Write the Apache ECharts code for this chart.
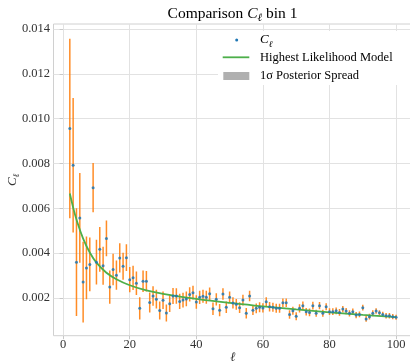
<!DOCTYPE html>
<html><head><meta charset="utf-8">
<script src="https://cdn.jsdelivr.net/npm/echarts@6/dist/echarts.min.js"></script>
<style>html,body{margin:0;padding:0;background:#fff}#c{width:410px;height:363px}</style>
</head><body><div id="c"></div>
<script>
// multipoles
const ells = [2,3,4,5,6,7,8,9,10,11,12,13,14,15,16,17,18,19,20,21,22,23,24,25,26,27,28,29,30,31,32,33,34,35,36,37,38,39,40,41,42,43,44,45,46,47,48,49,50,51,52,53,54,55,56,57,58,59,60,61,62,63,64,65,66,67,68,69,70,71,72,73,74,75,76,77,78,79,80,81,82,83,84,85,86,87,88,89,90,91,92,93,94,95,96,97,98,99,100];
const cl = [0.00956,0.00792,0.0036,0.00557,0.00271,0.00334,0.0035,0.00692,0.0036,0.00417,
0.00344,0.00466,0.00249,0.00327,0.00302,0.00379,0.00342,0.0038,0.00282,0.0029,
0.00266,0.00154,0.00275,0.00275,0.0018,0.00209,0.00195,0.00144,0.0019,0.00133,
0.00175,0.00209,0.00209,0.00185,0.00191,0.00196,0.00216,0.00224,0.00182,0.00203,
0.00208,0.00203,0.00219,0.00152,0.00194,0.00146,0.00218,0.00159,0.00204,0.00178,
0.00172,0.00157,0.00191,0.00132,0.00209,0.00146,0.00154,0.00159,0.00156,0.00183,
0.00161,0.00159,0.00154,0.00154,0.00179,0.00179,0.00127,0.00143,0.00119,0.00154,
0.00166,0.00139,0.00136,0.00166,0.00132,0.00166,0.00132,0.00161,0.00139,0.00139,
0.00143,0.00136,0.00151,0.00142,0.00132,0.00139,0.00124,0.00127,0.00157,0.00107,
0.00117,0.00132,0.00142,0.00134,0.00127,0.00121,0.00121,0.00117,0.00114];
// half-length of error bars
const clErr = [0.0040,0.0030,0.0024,0.0020,0.0018,0.0014,0.0012,0.0011,0.0010,0.0010,
0.00085,0.0008,0.00074,0.0007,0.00065,0.00065,0.0006,0.0006,0.00056,0.00054,
0.00052,0.0005,0.00048,0.00046,0.00045,0.00043,0.00042,0.0004,0.00039,0.00038,
0.00037,0.00036,0.00035,0.00034,0.00033,0.00033,0.00032,0.00031,0.0003,0.0003,
0.00029,0.00029,0.00028,0.00028,0.00027,0.00027,0.00026,0.00026,0.00025,0.00025,
0.00024,0.00024,0.00024,0.00023,0.00023,0.00022,0.00022,0.00022,0.00021,0.00021,
0.00021,0.0002,0.0002,0.0002,0.00019,0.00019,0.00019,0.00018,0.00018,0.00018,
0.00018,0.00017,0.00017,0.00017,0.00016,0.00016,0.00016,0.00016,0.00015,0.00015,
0.00015,0.00015,0.00014,0.00014,0.00014,0.00014,0.00014,0.00013,0.00013,0.00013,
0.00013,0.00013,0.00012,0.00012,0.00012,0.00012,0.00012,0.00012,0.00011];
// highest likelihood model
const modelElls = [2,3,4,6,8,10,13,16,20,25,30,40,50,60,70,80,90,100];
const modelCl = [0.00666,0.00604,0.0055,0.00465,0.00403,0.00358,0.00313,0.00284,0.00257,0.00234,0.00219,0.00196,0.00178,0.00163,0.00149,0.00136,0.00125,0.00115];
const xTicks = [0,20,40,60,80,100];
const yTicks = [0.002,0.004,0.006,0.008,0.010,0.012,0.014];

const FONT = 'Liberation Serif';
const TXT = '#333';
const richBase = {
  n: {fontFamily: FONT, fontSize: 12.5, color: TXT, lineHeight: 18, verticalAlign: 'middle'},
  i: {fontFamily: FONT, fontSize: 13, fontStyle: 'italic', color: TXT, lineHeight: 18, verticalAlign: 'middle'},
  s: {fontFamily: FONT, fontSize: 9, fontStyle: 'italic', color: TXT, lineHeight: 9, verticalAlign: 'bottom'}
};
const richTitle = {
  n: {fontFamily: FONT, fontSize: 15.5, color: TXT, lineHeight: 20, verticalAlign: 'middle'},
  i: {fontFamily: FONT, fontSize: 15.5, fontStyle: 'italic', color: TXT, lineHeight: 20, verticalAlign: 'middle'},
  s: {fontFamily: FONT, fontSize: 11, fontStyle: 'italic', color: TXT, lineHeight: 10, verticalAlign: 'bottom'}
};

const chart = echarts.init(document.getElementById('c'), null, {renderer: 'canvas'});
const gridColor = '#e2e2e2';
chart.setOption({
  animation: false,
  backgroundColor: '#fff',
  grid: {left: 53.5, right: -2.4, top: 24, bottom: 27.3, show: true, borderColor: '#d0d0d0', borderWidth: 1, containLabel: false, outerBoundsMode: 'none'},
  xAxis: {
    type: 'value', min: -2.9, max: 104.9,
    axisLine: {show: false},
    axisTick: {show: true, length: 3.5, lineStyle: {color: '#c8c8c8'}, customValues: xTicks},
    axisLabel: {customValues: xTicks, fontFamily: FONT, fontSize: 12.5, color: TXT, margin: 3},
    splitLine: {show: true, lineStyle: {color: gridColor, width: 1}},
    name: '{i|ℓ}', nameLocation: 'middle', nameGap: 13, nameMoveOverlap: false,
    nameTextStyle: {rich: richBase}
  },
  yAxis: {
    type: 'value', min: 0.00032, max: 0.01422,
    axisLine: {show: false},
    axisTick: {show: true, length: 3.5, lineStyle: {color: '#c8c8c8'}, customValues: yTicks},
    axisLabel: {customValues: yTicks, formatter: v => v.toFixed(3), fontFamily: FONT, fontSize: 12.5, color: TXT, margin: 3.5},
    splitLine: {show: true, lineStyle: {color: gridColor, width: 1}},
    name: '{i|C}{s|ℓ}', nameLocation: 'middle', nameGap: 32, nameRotate: 90, nameMoveOverlap: false,
    nameTextStyle: {rich: richBase}
  },
  graphic: [
    {type: 'text', x: 232.5, y: 14, style: {text: '{n|Comparison }{i|C}{s|ℓ}{n| bin 1}', rich: richTitle, align: 'center', verticalAlign: 'middle'}},
    {type: 'rect', shape: {x: 218, y: 31, width: 192, height: 54}, style: {fill: '#fff'}, z: 10},
    {type: 'circle', shape: {cx: 236.7, cy: 40, r: 1.5}, style: {fill: '#1f77b4'}, z: 11},
    {type: 'text', x: 260, y: 40, z: 11, style: {text: '{i|C}{s|ℓ}', rich: richBase, verticalAlign: 'middle'}},
    {type: 'line', shape: {x1: 222.7, y1: 57.3, x2: 249.3, y2: 57.3}, style: {stroke: '#4daf4a', lineWidth: 1.8}, z: 11},
    {type: 'text', x: 260, y: 57.5, z: 11, style: {text: '{n|Highest Likelihood Model}', rich: richBase, verticalAlign: 'middle'}},
    {type: 'rect', shape: {x: 223.3, y: 72, width: 26, height: 8}, style: {fill: '#b0b0b0'}, z: 11},
    {type: 'text', x: 260, y: 76, z: 11, style: {text: '{n|1σ Posterior Spread}', rich: richBase, verticalAlign: 'middle'}}
  ],
  series: [
    {
      type: 'custom', clip: true, z: 2,
      data: ells.map((l, i) => [l, cl[i] - clErr[i], cl[i] + clErr[i]]),
      encode: {x: 0, y: [1, 2]},
      renderItem(params, api) {
        const x = api.value(0);
        const p1 = api.coord([x, api.value(1)]);
        const p2 = api.coord([x, api.value(2)]);
        return {type: 'line', shape: {x1: p1[0], y1: p1[1], x2: p2[0], y2: p2[1]}, style: {stroke: '#ff7f0e', lineWidth: 1.5, opacity: 0.9}};
      }
    },
    {
      type: 'line', z: 3, smooth: 0.4, showSymbol: false, silent: true,
      data: modelElls.map((l, i) => [l, modelCl[i]]),
      lineStyle: {color: '#4daf4a', width: 1.8}
    },
    {
      type: 'scatter', z: 4, symbolSize: 3,
      data: ells.map((l, i) => [l, cl[i]]),
      itemStyle: {color: '#1f77b4', opacity: 0.85}
    }
  ]
});
</script></body></html>
